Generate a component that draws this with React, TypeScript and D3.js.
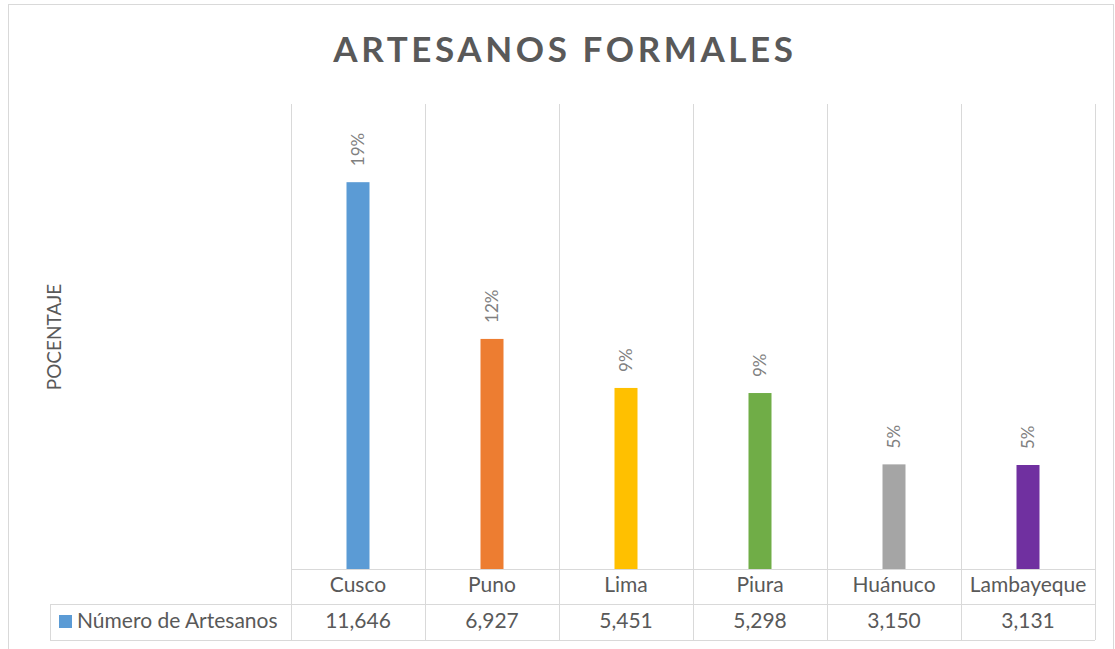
import { useEffect, useRef } from "react";
import * as d3 from "d3";

const categories = ["Cusco", "Puno", "Lima", "Piura", "Huánuco", "Lambayeque"];
const artesanos = [11646, 6927, 5451, 5298, 3150, 3131];
const percentLabels = ["19%", "12%", "9%", "9%", "5%", "5%"];
const valueLabels = ["11,646", "6,927", "5,451", "5,298", "3,150", "3,131"];
const barColors = ["#5B9BD5", "#ED7D31", "#FFC000", "#70AD47", "#A5A5A5", "#7030A0"];
const seriesName = "Número de Artesanos";

export default function App() {
  const ref = useRef<SVGSVGElement | null>(null);

  useEffect(() => {
    const W = 1115;
    const H = 649;
    const plotLeft = 291;
    const plotRight = 1095;
    const plotTop = 104;
    const baseY = 569;
    const row1 = 604;
    const row2 = 640;
    const legendLeft = 50;
    const grid = "#D9D9D9";
    const textColor = "#595959";
    const font = "Lato, 'Open Sans', sans-serif";

    const svg = d3.select(ref.current);
    svg.selectAll("*").remove();

    // fondo y borde
    svg.append("rect").attr("width", W).attr("height", H).attr("fill", "#fff");
    svg
      .append("rect")
      .attr("x", 8.5)
      .attr("y", 4.5)
      .attr("width", W - 10)
      .attr("height", H + 10)
      .attr("fill", "none")
      .attr("stroke", grid);

    const x = d3.scaleBand().domain(categories).range([plotLeft, plotRight]).padding(0);
    const y = d3.scaleLinear().domain([0, 14000]).range([baseY, plotTop]);

    // título
    svg
      .append("text")
      .attr("x", 565)
      .attr("y", 62)
      .attr("text-anchor", "middle")
      .attr("font-family", font)
      .attr("font-size", 35)
      .attr("font-weight", "bold")
      .attr("letter-spacing", 3.6)
      .attr("fill", textColor)
      .text("ARTESANOS FORMALES");

    // eje Y
    svg
      .append("text")
      .attr("transform", `translate(61,337) rotate(-90)`)
      .attr("text-anchor", "middle")
      .attr("font-family", font)
      .attr("font-size", 19)
      .attr("fill", textColor)
      .text("POCENTAJE");

    // líneas verticales de la tabla / cuadrícula
    const edges = categories.map((c) => x(c)!).concat([plotRight]);
    svg
      .selectAll("line.v")
      .data(edges)
      .enter()
      .append("line")
      .attr("x1", (d) => Math.round(d) + 0.5)
      .attr("x2", (d) => Math.round(d) + 0.5)
      .attr("y1", plotTop)
      .attr("y2", row2)
      .attr("stroke", grid);

    // líneas horizontales de la tabla
    [
      { y: baseY, x1: plotLeft },
      { y: row1, x1: legendLeft },
      { y: row2, x1: legendLeft },
    ].forEach((l) => {
      svg
        .append("line")
        .attr("x1", l.x1)
        .attr("x2", plotRight)
        .attr("y1", l.y + 0.5)
        .attr("y2", l.y + 0.5)
        .attr("stroke", grid);
    });
    svg
      .append("line")
      .attr("x1", legendLeft + 0.5)
      .attr("x2", legendLeft + 0.5)
      .attr("y1", row1)
      .attr("y2", row2)
      .attr("stroke", grid);

    // barras
    const bw = 23;
    svg
      .selectAll("rect.bar")
      .data(artesanos)
      .enter()
      .append("rect")
      .attr("x", (_, i) => x(categories[i])! + x.bandwidth() / 2 - bw / 2)
      .attr("y", (d) => y(d))
      .attr("width", bw)
      .attr("height", (d) => baseY - y(d))
      .attr("fill", (_, i) => barColors[i]);

    // etiquetas de porcentaje
    svg
      .selectAll("text.pct")
      .data(artesanos)
      .enter()
      .append("text")
      .attr(
        "transform",
        (d, i) => `translate(${x(categories[i])! + x.bandwidth() / 2 + 6},${y(d) - 16}) rotate(-90)`
      )
      .attr("text-anchor", "start")
      .attr("font-family", font)
      .attr("font-size", 17)
      .attr("fill", "#808080")
      .text((_, i) => percentLabels[i]);

    // nombres de categorías
    svg
      .selectAll("text.cat")
      .data(categories)
      .enter()
      .append("text")
      .attr("x", (d) => x(d)! + x.bandwidth() / 2)
      .attr("y", 592)
      .attr("text-anchor", "middle")
      .attr("font-family", font)
      .attr("font-size", 21)
      .attr("fill", textColor)
      .text((d) => d);

    // valores
    svg
      .selectAll("text.val")
      .data(valueLabels)
      .enter()
      .append("text")
      .attr("x", (_, i) => x(categories[i])! + x.bandwidth() / 2)
      .attr("y", 628)
      .attr("text-anchor", "middle")
      .attr("font-family", font)
      .attr("font-size", 21)
      .attr("fill", textColor)
      .text((d) => d);

    // leyenda
    svg
      .append("rect")
      .attr("x", 59)
      .attr("y", 615)
      .attr("width", 13)
      .attr("height", 13)
      .attr("fill", barColors[0]);
    svg
      .append("text")
      .attr("x", 77)
      .attr("y", 628)
      .attr("font-family", font)
      .attr("font-size", 21)
      .attr("fill", textColor)
      .text(seriesName);
  }, []);

  return (
    <svg
      ref={ref}
      width={1115}
      height={649}
      style={{ position: "absolute", left: 0, top: 0, display: "block" }}
    />
  );
}
